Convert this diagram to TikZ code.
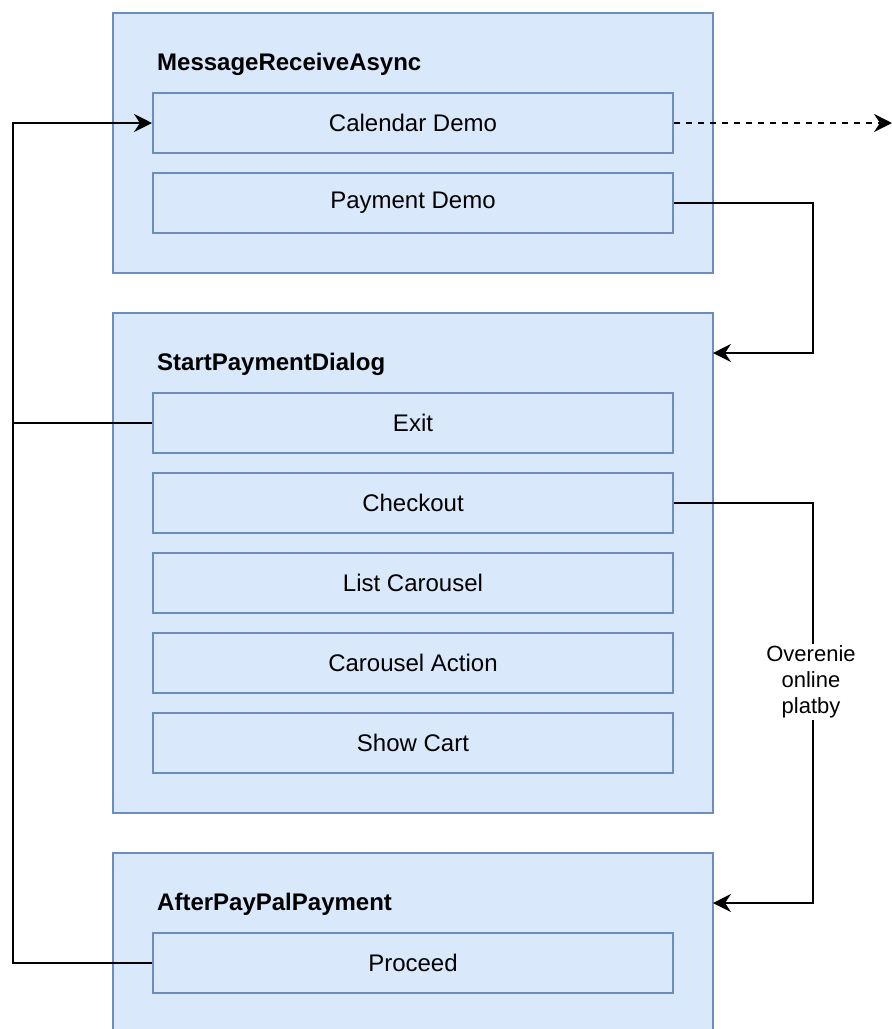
\documentclass[tikz,border=0pt]{standalone}
\usepackage{fontspec}
\setmainfont{Liberation Sans}
\usetikzlibrary{arrows.meta,calc}
\definecolor{boxfill}{HTML}{DAE8FC}
\definecolor{boxline}{HTML}{6C8EBF}
\tikzset{
  container/.style={draw=boxline, fill=boxfill, line width=2pt},
  item/.style={draw=boxline, fill=boxfill, line width=2pt, minimum width=520pt,
    minimum height=60pt, inner sep=0pt, font=\fontsize{24}{28}\selectfont},
  title/.style={anchor=west, inner sep=0pt, font=\bfseries\fontsize{24}{28}\selectfont},
  link/.style={draw=black, line width=2pt, -{Stealth[length=18pt,width=18pt,inset=6pt]}},
  plain/.style={draw=black, line width=2pt},
  edgelabel/.style={fill=white, inner sep=2pt, align=center,
    font=\fontsize{22}{26}\selectfont}
}
\begin{document}
\begin{tikzpicture}[x=1pt,y=-1pt]
\useasboundingbox (0,0) rectangle (892,1029);
\clip (0,0) rectangle (892,1029);
% containers
\path[container] (113,13) rectangle (713,273);
\path[container] (113,313) rectangle (713,813);
\path[container] (113,853) rectangle (713,1060);
\coordinate (c2in) at (713,353);
\coordinate (c3in) at (713,903);
% titles
\node[title] (t1) at (157,64) {MessageReceiveAsync};
\node[title] (t2) at (157,364) {StartPaymentDialog};
\node[title] (t3) at (157,904) {AfterPayPalPayment};
% inner items
\node[item] (cal) at (413,123) {Calendar Demo};
\node[item] (pay) at (413,203) {Payment Demo};
\node[item] (exit) at (413,423) {Exit};
\node[item] (chk) at (413,503) {Checkout};
\node[item] (lst) at (413,583) {List Carousel};
\node[item] (act) at (413,663) {Carousel Action};
\node[item] (cart) at (413,743) {Show Cart};
\node[item] (proc) at (413,963) {Proceed};
% connectors
\coordinate (out) at (892,123);
\draw[link, dashed, dash pattern=on 6pt off 6pt] (cal.east) -- (out);
\draw[link] (pay.east) -| (813,353) -- (c2in);
\draw[link] (exit.west) -| (13,123) -- (cal.west);
\draw[plain] (proc.west) -| (13,423);
\draw[link] (chk.east) -| (813,903) -- (c3in);
\node[edgelabel] (lbl) at (811,682) {Overenie\\online\\platby};
\end{tikzpicture}
\end{document}
